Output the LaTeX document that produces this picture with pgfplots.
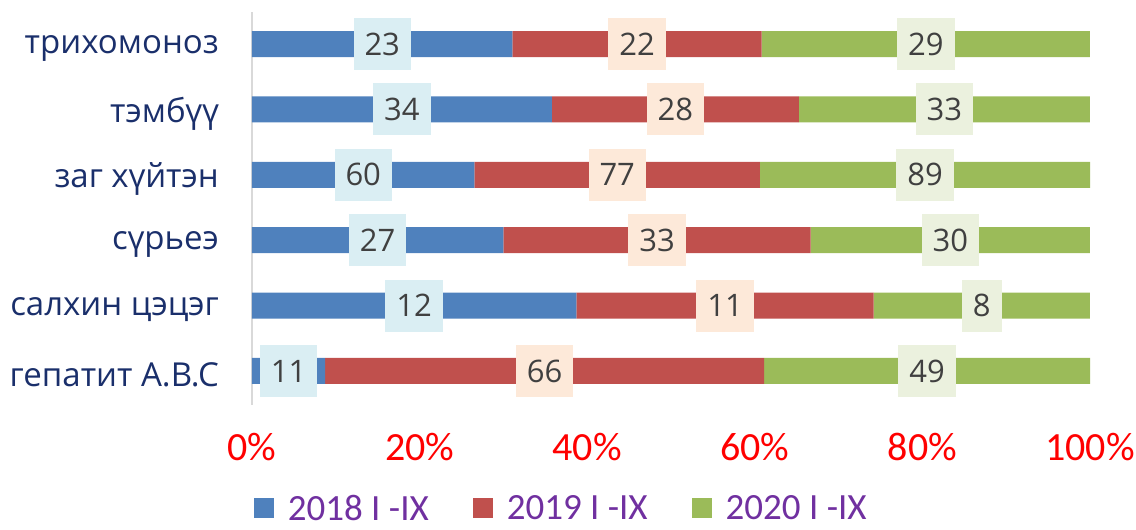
\documentclass[border=0pt]{standalone}
\usepackage{fontspec}
\usepackage{pgfplots}
\usepackage{pgfplotstable}
\pgfplotsset{compat=1.18}
\setmainfont{Open Sans}
\newfontfamily\calib{Carlito}

\definecolor{cblue}{HTML}{4F81BD}
\definecolor{cred}{HTML}{C0504D}
\definecolor{cgreen}{HTML}{9BBB59}
\definecolor{lblue}{HTML}{DAEEF3}
\definecolor{lred}{HTML}{FDE9D9}
\definecolor{lgreen}{HTML}{EBF1DE}
\definecolor{navy}{HTML}{1A2F6B}
\definecolor{purp}{HTML}{7030A0}
\definecolor{lbl}{HTML}{404040}

% raw counts, bottom category first
\pgfplotstableread{
y a  b  c
0 11 66 49
1 12 11 8
2 27 33 30
3 60 77 89
4 34 28 33
5 23 22 29
}\data
\pgfplotstablecreatecol[create col/expr={100*\thisrow{a}/(\thisrow{a}+\thisrow{b}+\thisrow{c})}]{pa}\data
\pgfplotstablecreatecol[create col/expr={100*\thisrow{b}/(\thisrow{a}+\thisrow{b}+\thisrow{c})}]{pb}\data
\pgfplotstablecreatecol[create col/expr={100*\thisrow{c}/(\thisrow{a}+\thisrow{b}+\thisrow{c})}]{pc}\data
\pgfplotstablecreatecol[create col/expr={\thisrow{pa}/2}]{ma}\data
\pgfplotstablecreatecol[create col/expr={\thisrow{pa}+\thisrow{pb}/2}]{mb}\data
\pgfplotstablecreatecol[create col/expr={\thisrow{pa}+\thisrow{pb}+\thisrow{pc}/2}]{mc}\data

\pgfplotsset{
  /pgf/number format/assume math mode=true,
  base/.style={
    at={(252pt,125pt)}, anchor=south west,
    scale only axis, width=838pt, height=393pt,
    xmin=0, xmax=100, ymin=-0.52, ymax=5.49,
  },
  lab/.style={
    only marks, mark=*, mark size=0pt, mark options={draw=none, fill=none},
    point meta=explicit, nodes near coords,
    every node near coord/.append style={anchor=center, fill=#1, text=lbl,
      font=\fontsize{31}{31}\selectfont, inner xsep=11pt, inner ysep=0pt,
      minimum height=52pt},
  },
}

\begin{document}
\begin{tikzpicture}
\path[use as bounding box] (0,0) rectangle (1136pt,530pt);
\begin{axis}[
  base,
  xbar stacked, bar width=26pt,
  axis lines*=left,
  x axis line style={draw=none},
  y axis line style={draw=black!15, line width=2pt},
  major tick length=0pt,
  ytick={0,...,5},
  yticklabels={гепатит А.В.С, салхин цэцэг, сүрьеэ, заг хүйтэн, тэмбүү, трихомоноз},
  yticklabel style={anchor=east, inner sep=0pt, xshift=-33pt, yshift=-4pt,
    text=navy, font=\fontsize{33}{33}\selectfont},
  xtick={0,20,...,100},
  xticklabel={\pgfmathprintnumber{\tick}\%},
  xticklabel style={anchor=center, yshift=-42pt, text=red,
    font=\calib\fontsize{40}{40}\selectfont},
  legend columns=3,
  legend style={at={(0.369,-0.263)}, anchor=center, draw=none, fill=none,
    font=\calib\fontsize{37}{37}\selectfont, text=purp,
    /tikz/every even column/.append style={column sep=42pt},
    /tikz/every odd column/.append style={column sep=12pt}},
  legend image code/.code={\fill[#1] (0pt,-10pt) rectangle (20pt,10pt);},
]
\addplot[fill=cblue, draw=none] table[x=pa, y=y] {\data};
\addplot[fill=cred, draw=none] table[x=pb, y=y] {\data};
\addplot[fill=cgreen, draw=none] table[x=pc, y=y] {\data};
\legend{2018 I -IX, 2019 I -IX, 2020 I -IX}
\end{axis}
\begin{axis}[base, hide axis, clip=false]
\addplot[lab=lblue] table[x=ma, y=y, meta=a] {\data};
\addplot[lab=lred] table[x=mb, y=y, meta=b] {\data};
\addplot[lab=lgreen] table[x=mc, y=y, meta=c] {\data};
\end{axis}
\end{tikzpicture}
\end{document}
